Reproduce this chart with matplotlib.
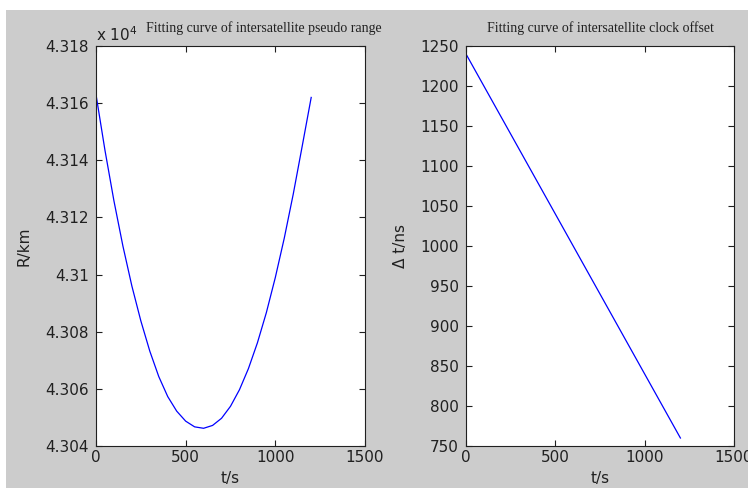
import numpy as np
import matplotlib
matplotlib.use('Agg')
import matplotlib.pyplot as plt
from matplotlib.patches import Rectangle
from matplotlib.ticker import FixedLocator, FuncFormatter

# Data
t_range = [0, 50, 100, 150, 200, 250, 300, 350, 400, 450, 500, 550, 600,
           650, 700, 750, 800, 850, 900, 950, 1000, 1050, 1100, 1150, 1200]
# pseudo range in units of 1e4 km
R_range = [4.31630, 4.31435, 4.31258, 4.31100, 4.30960, 4.30838, 4.30732,
           4.30643, 4.30573, 4.30522, 4.30487, 4.30467, 4.30462, 4.30472,
           4.30497, 4.30539, 4.30597, 4.30671, 4.30761, 4.30867, 4.30990,
           4.31128, 4.31282, 4.31450, 4.31620]

t_clock = [0, 200, 400, 600, 800, 1000, 1200]
dt_clock = [1240, 1160, 1080, 1000, 920, 840, 760]

R_ticks = [4.304, 4.306, 4.308, 4.31, 4.312, 4.314, 4.316, 4.318]
dt_ticks = [750, 800, 850, 900, 950, 1000, 1050, 1100, 1150, 1200, 1250]
t_ticks = [0, 500, 1000, 1500]

W, H = 748, 495
plt.rcParams['font.family'] = ['DejaVu Sans']
fs = 11

fig = plt.figure(figsize=(W/100, H/100), dpi=100)
fig.patch.set_facecolor('white')
fig.patches.append(Rectangle((6/W, 7/H), 742/W, 478/H, transform=fig.transFigure,
                             facecolor='#cccccc', edgecolor='none', zorder=-10))

def px_axes(x0, x1, y0, y1):
    'axes from pixel box (top-left origin)'
    return fig.add_axes([x0/W, 1 - y1/H, (x1 - x0)/W, (y1 - y0)/H])

def style(ax):
    ax.set_facecolor('white')
    for s in ax.spines.values():
        s.set_linewidth(0.8)
        s.set_color('#202020')
    ax.tick_params(direction='in', length=4, width=0.8, top=True, right=True,
                   labelsize=fs, pad=3, colors='#202020')
    ax.tick_params(axis='y', pad=5)
    ax.xaxis.set_major_locator(FixedLocator(t_ticks))
    ax.xaxis.set_major_formatter(FuncFormatter(lambda v, p: '%g' % v))
    ax.set_xlim(0, 1500)
    ax.set_xlabel('t/s', fontsize=fs, labelpad=4, color='#202020')

ax1 = px_axes(96, 365, 46, 446)
style(ax1)
ax1.plot(t_range, R_range, color='blue', lw=0.9)
ax1.set_ylim(4.304, 4.318)
ax1.yaxis.set_major_locator(FixedLocator(R_ticks))
ax1.yaxis.set_major_formatter(FuncFormatter(lambda v, p: '%g' % round(v, 4)))
ax1.set_ylabel('R/km', fontsize=fs, labelpad=10, color='#202020')
ax1.text(0.0, 1.006, r'x 10$^{4}$', transform=ax1.transAxes, fontsize=fs,
         ha='left', va='bottom', color='#202020')
ax1.text(0.625, 1.045, 'Fitting curve of intersatellite pseudo range',
         transform=ax1.transAxes, fontsize=10, ha='center', va='center',
         family='Liberation Serif', color='#202020')

ax2 = px_axes(466, 734, 46, 446)
style(ax2)
ax2.plot(t_clock, dt_clock, color='blue', lw=0.9)
ax2.set_ylim(750, 1250)
ax2.yaxis.set_major_locator(FixedLocator(dt_ticks))
ax2.set_ylabel('\u0394 t/ns', fontsize=fs, labelpad=9, color='#202020')
ax2.text(0.5, 1.045, 'Fitting curve of intersatellite clock offset',
         transform=ax2.transAxes, fontsize=10, ha='center', va='center',
         family='Liberation Serif', color='#202020')

fig.savefig('out.png', dpi=100, facecolor='white')
